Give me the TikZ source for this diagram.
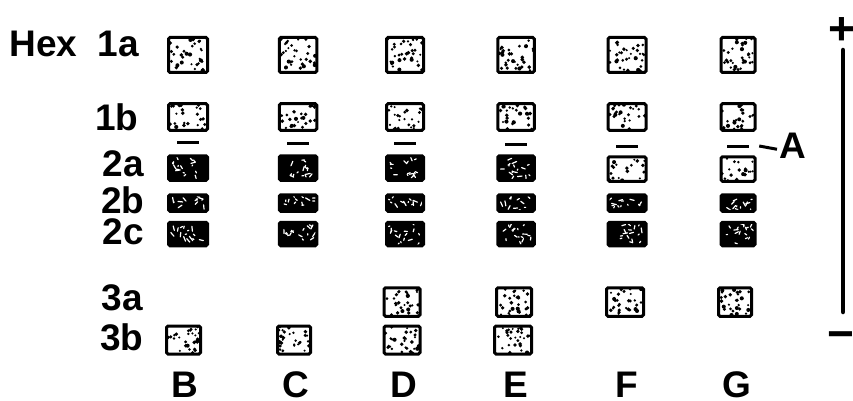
\documentclass[tikz,border=0pt]{standalone}
\usepackage{fontspec}
\setmainfont{Liberation Sans}
\usetikzlibrary{calc}
\newcommand\lightspecks[1]{%
  \path (path picture bounding box.south west) coordinate (ppa)
        (path picture bounding box.north east) coordinate (ppb);
  \foreach \k in {1,...,#1}{%
    \pgfmathsetmacro\rx{0.03+0.94*rnd}\pgfmathsetmacro\ry{0.03+0.94*rnd}\pgfmathsetmacro\rr{1.1+1.0*rnd}%
    \fill[black] let \p1=(ppa),\p2=(ppb) in ({\x1+\rx*(\x2-\x1)},{\y1+\ry*(\y2-\y1)}) circle[radius=\rr pt];
  }}
\newcommand\darkspecks[1]{%
  \path (path picture bounding box.south west) coordinate (ppa)
        (path picture bounding box.north east) coordinate (ppb);
  \foreach \k in {1,...,#1}{%
    \pgfmathsetmacro\rx{0.08+0.84*rnd}\pgfmathsetmacro\ry{0.1+0.8*rnd}%
    \pgfmathsetmacro\ang{360*rnd}\pgfmathsetmacro\len{1+4*rnd}%
    \draw[white, line width=1.2pt, line cap=round] let \p1=(ppa),\p2=(ppb) in
      ({\x1+\rx*(\x2-\x1)},{\y1+\ry*(\y2-\y1)}) -- ++(\ang:\len pt);
  }}
\tikzset{
  cellbox/.style={draw=black, line width=3pt, inner sep=0pt, rounded corners=1.5pt},
  lightcell/.style={cellbox, fill=white, path picture={\lightspecks{#1}}},
  lightcell/.default=30,
  darkcell/.style={cellbox, fill=black, path picture={\darkspecks{#1}}},
  darkcell/.default=18,
  lbl/.style={font=\bfseries\fontsize{37}{37}\selectfont, inner sep=0pt},
  sym/.style={font=\bfseries\fontsize{46}{46}\selectfont, inner sep=0pt},
  dashmark/.style={fill=black, minimum width=22pt, minimum height=3pt, inner sep=0pt},
}
\begin{document}
\begin{tikzpicture}[x=1pt, y=-1pt]
\pgfmathsetseed{12}
\useasboundingbox (0,0) rectangle (853,401);
% row labels
\node[lbl, anchor=base west] (hex) at (9.5,57) {Hex};
\node[lbl, anchor=base east] (r1a) at (139,57) {1a};
\node[lbl, anchor=base east] (r1b) at (138.5,130) {1b};
\node[lbl, anchor=base east] (r2a) at (144,176) {2a};
\node[lbl, anchor=base east] (r2b) at (144.5,213) {2b};
\node[lbl, anchor=base east] (r2c) at (144,244) {2c};
\node[lbl, anchor=base east] (r3a) at (143,310) {3a};
\node[lbl, anchor=base east] (r3b) at (143.5,350) {3b};
% cells common to all columns
\foreach \cc/\cx/\cw/\dy in {B/188/39/142, C/298/37.5/143, D/405/37/143, E/516/36.5/144, F/627/38/146, G/738/34/146}{
  \node[lightcell=32, minimum width=\cw pt, minimum height=35pt] (\cc1a) at (\cx,55) {};
  \node[lightcell=24, minimum width=\cw pt, minimum height=26.5pt] (\cc1b) at (\cx,117) {};
  \node[dashmark] (\cc-d) at (\cx,\dy) {};
  \node[darkcell=12, minimum width=\cw pt, minimum height=16.5pt] (\cc2b) at (\cx,203) {};
  \node[darkcell=16, minimum width=\cw pt, minimum height=23.5pt] (\cc2c) at (\cx,234) {};
}
% row 2a
\foreach \cc/\cx/\cw in {B/188/39, C/298/37.5, D/405/37, E/516/36.5}{
  \node[darkcell=16, minimum width=\cw pt, minimum height=24.5pt] (\cc2a) at (\cx,168) {};
}
\foreach \cc/\cx/\cw in {F/627/38, G/738/34}{
  \node[lightcell=18, minimum width=\cw pt, minimum height=24.5pt] (\cc2a) at (\cx,169) {};
}
% row 3a
\foreach \cc/\cx/\cw in {D/402/36, E/514/35, F/625/37, G/735/33}{
  \node[lightcell=28, minimum width=\cw pt, minimum height=28.5pt] (\cc3a) at (\cx,302) {};
}
% row 3b
\foreach \cc/\cx/\cw in {B/183.5/34, C/294/33, D/402/36, E/513/37}{
  \node[lightcell=28, minimum width=\cw pt, minimum height=28pt] (\cc3b) at (\cx,340) {};
}
% column letters
\node[lbl, anchor=base] (cB) at (185,397) {B};
\node[lbl, anchor=base] (cC) at (296,397) {C};
\node[lbl, anchor=base] (cD) at (404,397) {D};
\node[lbl, anchor=base] (cE) at (516,397) {E};
\node[lbl, anchor=base] (cF) at (627,397) {F};
\node[lbl, anchor=base] (cG) at (737,397) {G};
% label A
\node[lbl, anchor=base west] (A) at (779,158) {A};
\draw[line width=3pt] ([xshift=10pt]G-d.east) -- ([xshift=-2pt, yshift=-4pt]A.west);
% polarity
\node[sym, anchor=base] (plus) at (841.5,45) {+};
\node[sym, anchor=base] (minus) at (841,349) {−};
\coordinate (vtop) at (843,50);
\coordinate (vbot) at (843,312);
\draw[line width=4.5pt, line cap=round] (vtop) -- (vbot);
\end{tikzpicture}
\end{document}
